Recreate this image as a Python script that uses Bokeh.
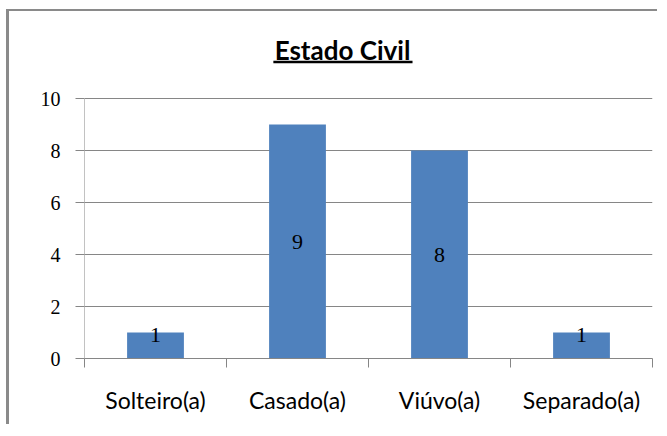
from bokeh.plotting import figure
from bokeh.models import Range1d, FixedTicker, ColumnDataSource
from bokeh.core.properties import value
from bokeh.embed import file_html
from bokeh.resources import INLINE

# ---- data ----
categories = ["Solteiro(a)", "Casado(a)", "Viúvo(a)", "Separado(a)"]
counts = [1, 9, 8, 1]
y_ticks = [0, 2, 4, 6, 8, 10]
title_text = "Estado Civil"

n = len(categories)
centers = [i + 0.5 for i in range(n)]
bounds = [float(i) for i in range(n + 1)]
label_y = [max(v / 2, 0.92) for v in counts]

PX_PER_UNIT = 26
FRAME_H = 347
y_top = FRAME_H / PX_PER_UNIT

p = figure(width=651, height=415, output_backend="svg", toolbar_location=None,
           x_range=Range1d(0, n), y_range=Range1d(0, y_top),
           min_border_left=75, min_border_right=8, min_border_top=0, min_border_bottom=68)
p.styles = {"border-left": "3px solid #8a8a8a", "border-top": "2px solid #8a8a8a",
            "margin-left": "6px", "margin-top": "9px"}
p.outline_line_color = None
p.background_fill_color = "white"
p.border_fill_color = "white"

src = ColumnDataSource(dict(x=centers, top=counts, ly=label_y, lbl=[str(v) for v in counts]))
p.vbar(x="x", top="top", width=0.4, bottom=0, source=src, fill_color="#4F81BD", line_color=None)
p.text(x="x", y="ly", text="lbl", source=src, text_align="center", text_baseline="middle",
       text_font=value("Liberation Serif"), text_font_size="22px", text_color="black")

# y axis line (drawn only across the value range)
p.segment(x0=[0], y0=[0], x1=[0], y1=[max(y_ticks)], line_color="#868686", line_width=1)

# title with underline
p.text(x=[1.817], y=[11.85], text=[title_text], text_align="center", text_baseline="middle",
       text_font=value("Lato"), text_font_style="bold", text_font_size="26px", text_color="black")
p.segment(x0=[1.33], y0=[11.40], x1=[2.31], y1=[11.40], line_color="black", line_width=2.5)

# axes
xa = p.xaxis[0]
xa.ticker = FixedTicker(ticks=centers, minor_ticks=bounds)
xa.major_label_overrides = {c: lab for c, lab in zip(centers, categories)}
xa.major_tick_line_color = None
xa.minor_tick_line_color = "#868686"
xa.minor_tick_out = 9
xa.minor_tick_in = 0
xa.axis_line_color = "#868686"
xa.major_label_text_font = "Lato"
xa.major_label_text_font_size = "23px"
xa.major_label_text_color = "black"
xa.major_label_standoff = 18

ya = p.yaxis[0]
ya.ticker = FixedTicker(ticks=y_ticks, minor_ticks=[])
ya.axis_line_color = None
ya.major_tick_line_color = "#868686"
ya.major_tick_out = 9
ya.major_tick_in = 0
ya.minor_tick_line_color = None
ya.major_label_text_font = "Liberation Serif"
ya.major_label_text_font_size = "20px"
ya.major_label_text_color = "black"
ya.major_label_standoff = 15

p.xgrid.visible = False
p.ygrid.ticker = FixedTicker(ticks=y_ticks)
p.ygrid.grid_line_color = "#868686"
p.ygrid.grid_line_width = 1

open("out.html", "w").write(file_html(p, INLINE))
